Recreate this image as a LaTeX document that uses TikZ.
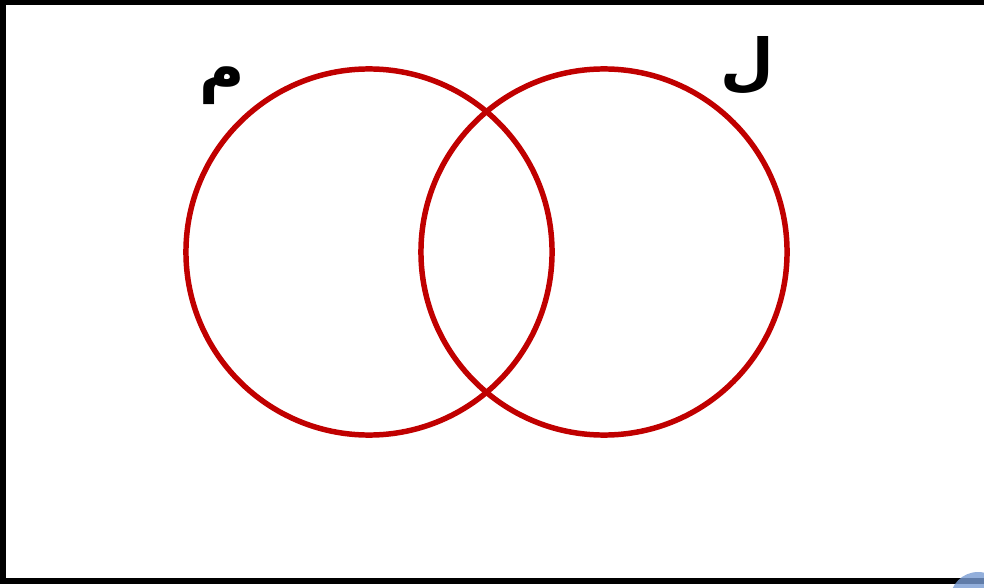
\documentclass[tikz,border=0pt]{standalone}
\usepackage{fontspec}
\newfontfamily\arabicfont[Script=Arabic]{DejaVu Sans}
\TeXXeTstate=1
\usetikzlibrary{positioning}
\definecolor{setred}{RGB}{192,0,0}
\definecolor{markblue}{RGB}{120,155,210}
\tikzset{
  setcircle/.style={
    circle,
    draw=setred,
    line width=3.9pt,
    minimum size=9.15cm,
    inner sep=0pt
  },
  setlabel/.style={
    inner sep=0pt,
    font=\fontsize{44}{44}\arabicfont\bfseries
  },
  frame/.style={draw=black, line width=4.3pt}
}

\begin{document}
\begin{tikzpicture}[x=0.025cm, y=0.025cm]
  \useasboundingbox (0,0) rectangle (984,587);
  \clip (0,0) rectangle (984,587);
  % universe
  \draw[frame] (3,6) rectangle (1010,585.5);
  % sets
  \node[setcircle] (setM) at (369,335) {};
  \node[setcircle] (setL) at (604,335) {};
  \node[setlabel] (labM) at (222,501) {\beginR م\endR};
  \node[setlabel] (labL) at (747,521) {\beginR ل\endR};
  % corner mark
  \fill[markblue, opacity=0.8] (978,-13) circle (28);
\end{tikzpicture}
\end{document}
